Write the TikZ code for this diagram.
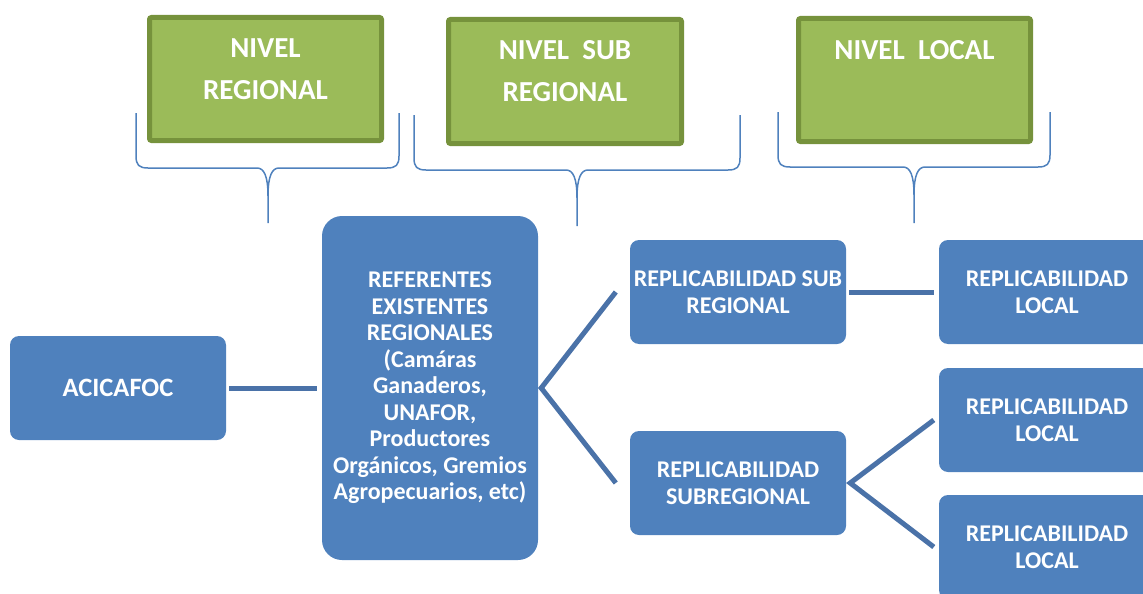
\documentclass[tikz,border=0pt]{standalone}
\usepackage{fontspec}
\setmainfont{Carlito}
\usetikzlibrary{calc}
\definecolor{bfill}{HTML}{4F81BD}
\definecolor{gfill}{HTML}{9BBB59}
\definecolor{gline}{HTML}{76923C}
\definecolor{conncol}{HTML}{4A72A8}
\definecolor{bracecol}{HTML}{4F81BD}
\tikzset{
  bbox/.style={rectangle, rounded corners=9pt, fill=bfill, minimum width=216pt, minimum height=104pt, inner sep=0pt, text=white, align=center, font=\bfseries\fontsize{24}{26.5}\selectfont},
  gbox/.style={rectangle, rounded corners=2pt, fill=gfill, draw=gline, line width=5pt, inner sep=0pt},
  gtext/.style={text=white, align=center, inner sep=0pt, font=\bfseries\fontsize{29}{42}\selectfont},
  connline/.style={draw=conncol, line width=5pt},
  bracel/.style={draw=bracecol, line width=1.5pt},
}
\newcommand{\levelbrace}[6]{%
  \draw[bracel] (#1,#4) -- (#1,#5-12) .. controls (#1,#5-3) and (#1+3,#5) .. (#1+12,#5)
    -- (#2-11,#5) .. controls (#2-4,#5) and (#2,#5+8) .. (#2,#5+28) -- (#2,#6);
  \draw[bracel] (#3,#4) -- (#3,#5-12) .. controls (#3,#5-3) and (#3-3,#5) .. (#3-12,#5)
    -- (#2+11,#5) .. controls (#2+4,#5) and (#2,#5+8) .. (#2,#5+28);
}
\begin{document}
\begin{tikzpicture}[x=1pt,y=-1pt]
\useasboundingbox (0,0) rectangle (1143,594);
\clip (0,0) rectangle (1143,594);

% level boxes
\node[gbox, minimum width=232pt, minimum height=123pt] (g1) at (265.5,79) {};
\node[gbox, minimum width=233pt, minimum height=124pt] (g2) at (565,81.5) {};
\node[gbox, minimum width=232pt, minimum height=123pt] (g3) at (914.5,80) {};
\node[gtext] (g1t) at (265.5,69) {NIVEL\\REGIONAL};
\node[gtext] (g2t) at (565,71) {NIVEL~~SUB\\REGIONAL};
\node[gtext] (g3t) at (914.5,50) {NIVEL~~LOCAL};

% braces
\levelbrace{136}{268}{399}{113}{168}{223}
\levelbrace{414}{577}{740}{115}{170}{226}
\levelbrace{778}{914}{1050}{112}{167}{223}

% blue boxes
\node[bbox, font=\bfseries\fontsize{26.5}{30}\selectfont] (aci) at (118,388) {ACICAFOC};
\node[bbox, minimum height=344pt, rounded corners=20pt] (ref) at (430,388)
  {REFERENTES\\EXISTENTES\\REGIONALES\\(Camáras\\Ganaderos,\\UNAFOR,\\Productores\\Orgánicos, Gremios\\Agropecuarios, etc)};
\node[bbox] (suba) at (738,292) {REPLICABILIDAD SUB\\REGIONAL};
\node[bbox] (subb) at (738,483) {REPLICABILIDAD\\SUBREGIONAL};
\node[bbox] (loca) at (1047,292) {REPLICABILIDAD\\LOCAL};
\node[bbox] (locb) at (1047,420) {REPLICABILIDAD\\LOCAL};
\node[bbox] (locc) at (1047,547) {REPLICABILIDAD\\LOCAL};

% connectors
\draw[connline] ([xshift=3pt]aci.east) -- ([xshift=-5pt]ref.west);
\draw[connline] ([xshift=-14pt]suba.west) -- ([xshift=3pt]ref.east) -- ([xshift=-14pt]subb.west);
\draw[connline] ([xshift=3pt]suba.east) -- ([xshift=-5pt]loca.west);
\draw[connline] ([xshift=-5pt]locb.west) -- ([xshift=4pt]subb.east) -- ([xshift=-5pt]locc.west);
\end{tikzpicture}
\end{document}
